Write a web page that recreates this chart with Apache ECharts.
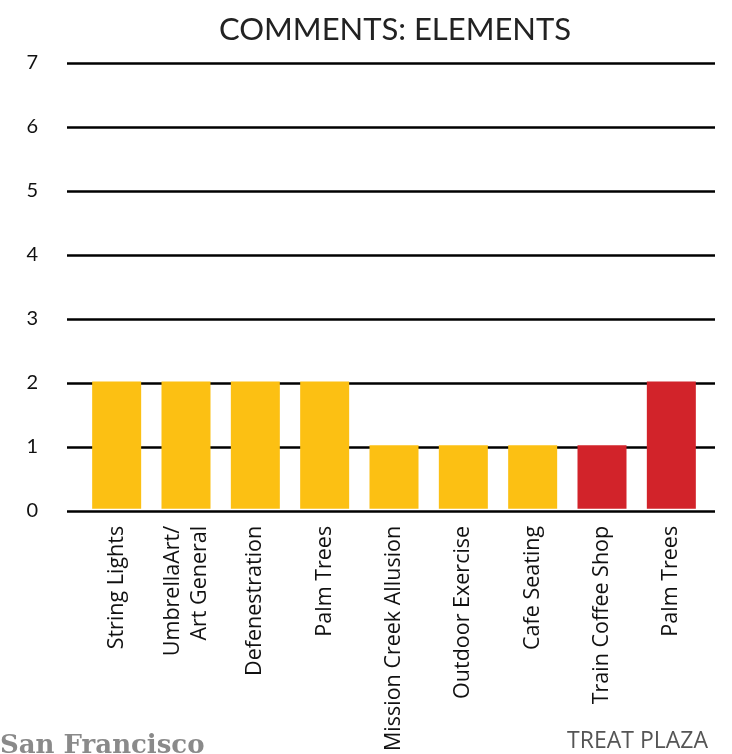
<!DOCTYPE html>
<html><head><meta charset="utf-8">
<script src="https://cdn.jsdelivr.net/npm/echarts@6/dist/echarts.min.js"></script>
<style>html,body{margin:0;padding:0;background:#fff}#c{width:732px;height:754px}</style>
</head><body><div id="c"></div>
<script>
const categories = ['String Lights','UmbrellaArt/\nArt General','Defenestration','Palm Trees','Mission Creek Allusion','Outdoor Exercise','Cafe Seating','Train Coffee Shop','Palm Trees'];
const values = [2,2,2,2,1,1,1,1,2];
const barColors = ['#FCC013','#FCC013','#FCC013','#FCC013','#FCC013','#FCC013','#FCC013','#D2232A','#D2232A'];
const yTicks = [0,1,2,3,4,5,6,7];
const titleText = 'COMMENTS: ELEMENTS';
const FONT = 'Lato';
const LFONT = 'Open Sans';
const chart = echarts.init(document.getElementById('c'));
chart.setOption({
  animation:false,
  title:{text:titleText,left:390,textAlign:'center',top:9,textStyle:{fontFamily:FONT,fontSize:31,fontWeight:'normal',color:'#222'}},
  grid:[
    {left:67,right:17,top:63,bottom:243},
    {left:82,right:26,top:63,bottom:243}
  ],
  xAxis:[
    {gridIndex:0,type:'value',show:false,min:0,max:1},
    {gridIndex:1,type:'category',data:categories,axisLine:{show:false},axisTick:{show:false},
     axisLabel:{rotate:90,interval:0,margin:17,fontFamily:LFONT,fontSize:21.5,color:'#111',lineHeight:27}}
  ],
  yAxis:[
    {gridIndex:0,type:'value',min:0,max:7,interval:1,axisLine:{show:false},axisTick:{show:false},
     axisLabel:{margin:29,fontFamily:FONT,fontSize:20,color:'#111'},
     splitLine:{lineStyle:{color:'#000',width:2.5}}},
    {gridIndex:1,type:'value',min:0,max:7,interval:1,show:false,splitLine:{show:false}}
  ],
  series:[{
    type:'bar',xAxisIndex:1,yAxisIndex:1,barWidth:49,
    data:values.map((v,i)=>({value:v,itemStyle:{color:barColors[i]}}))
  }],
  graphic:[
    {type:'text',left:0,top:733,style:{text:'San Francisco',font:'bold 26px "DejaVu Serif"',fill:'#8a8a8a'}},
    {type:'text',right:24,top:730,style:{text:'TREAT PLAZA',font:'23px "'+LFONT+'"',fill:'#555'}}
  ]
});
</script></body></html>
